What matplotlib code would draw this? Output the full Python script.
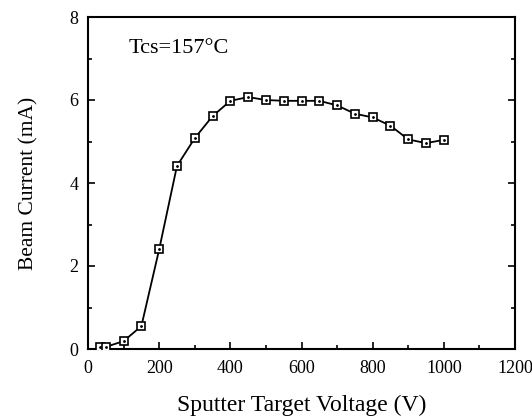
import matplotlib
matplotlib.use("Agg")
import matplotlib.pyplot as plt
from matplotlib.ticker import MultipleLocator

voltage = [35, 50, 100, 150, 200, 250, 300, 350, 400, 450, 500, 550, 600, 650,
           700, 750, 800, 850, 900, 950, 1000]
current = [0.05, 0.05, 0.19, 0.55, 2.4, 4.41, 5.08, 5.61, 5.98, 6.07, 6.0, 5.98,
           5.98, 5.98, 5.87, 5.67, 5.58, 5.38, 5.05, 4.96, 5.04]
annotation = "Tcs=157°C"

plt.rcParams['font.family'] = ['Liberation Serif', 'DejaVu Serif']

fig = plt.figure(figsize=(5.32, 4.17), dpi=100)
ax = fig.add_axes([88/532, 1-349/417, (515-88)/532, (349-17)/417])

ax.plot(voltage, current, color='black', lw=1.3, marker='s', ms=5.5,
        mfc='white', mec='black', mew=1.2, zorder=3)
ax.plot(voltage, current, ls='none', marker='.', ms=2, color='black', zorder=4)

ax.set_xlim(0, 1200)
ax.set_ylim(0, 8)
ax.xaxis.set_major_locator(MultipleLocator(200))
ax.xaxis.set_minor_locator(MultipleLocator(100))
ax.yaxis.set_major_locator(MultipleLocator(2))
ax.yaxis.set_minor_locator(MultipleLocator(1))
ax.tick_params(which='both', direction='in', right=True, top=False,
               labelsize=13, width=1.2)
ax.tick_params(axis='x', pad=8)
ax.tick_params(axis='y', pad=7)
ax.tick_params(which='major', length=5)
ax.tick_params(which='minor', length=3)
for s in ax.spines.values():
    s.set_linewidth(1.5)

ax.set_xlabel("Sputter Target Voltage (V)", fontsize=17, labelpad=13)
ax.set_ylabel("Beam Current (mA)", fontsize=15.5, labelpad=22)
ax.text(0.094, 0.905, annotation, transform=ax.transAxes, fontsize=16,
        va='center', ha='left')

fig.savefig("out.png", dpi=100)
